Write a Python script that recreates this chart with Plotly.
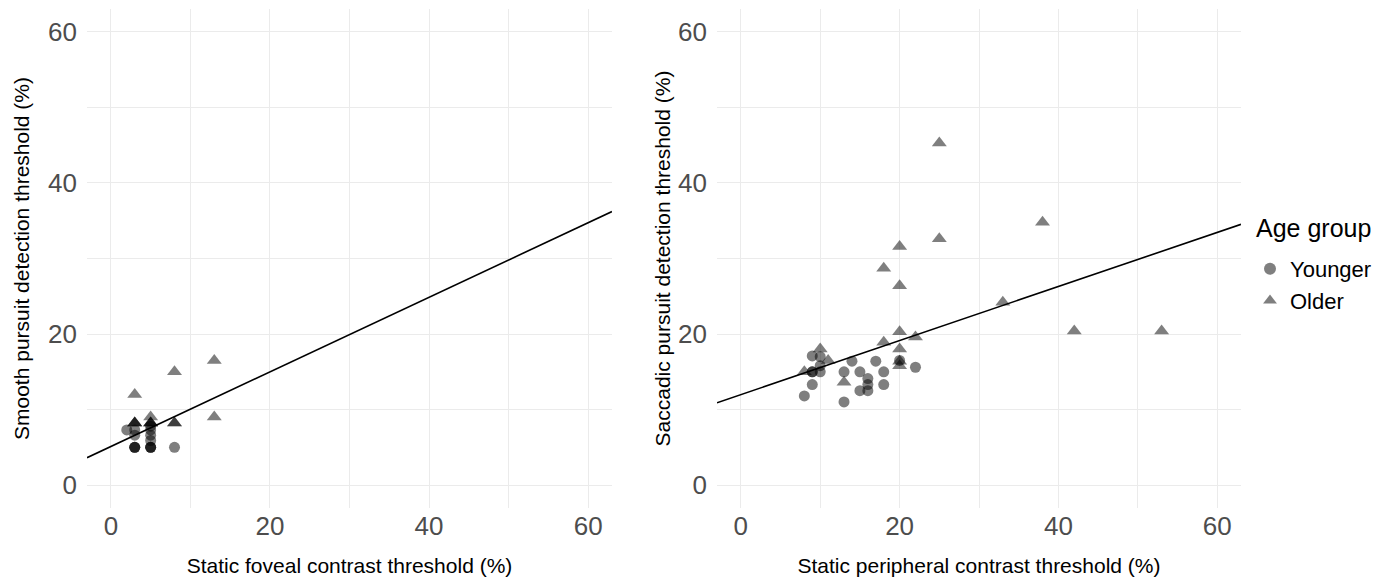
import plotly.graph_objects as go

# ---- data ----
# Left panel: static foveal contrast threshold vs smooth pursuit detection threshold
fov_young_x = [2, 3, 3, 3, 3, 3, 5, 5, 5, 5, 5, 5, 5, 8]
fov_young_y = [7.3, 5, 5, 5, 6.6, 7.3, 5, 5, 5, 5.9, 6.6, 7.3, 7.8, 5]
fov_old_x = [3, 3, 3, 3, 5, 5, 5, 5, 8, 8, 8, 13, 13]
fov_old_y = [12, 8.2, 8.2, 8.2, 9, 8.2, 8.2, 8.2, 8.2, 8.2, 15, 16.5, 9]
fov_fit = {"intercept": 5.1, "slope": 0.494}

# Right panel: static peripheral contrast threshold vs saccadic pursuit detection threshold
per_young_x = [8, 9, 9, 9, 9, 10, 10, 10, 13, 13, 14, 15, 15, 16, 16, 16, 17, 18, 18, 20, 22]
per_young_y = [11.8, 17.1, 15, 15, 13.3, 17, 15.8, 15, 15, 11, 16.4, 15, 12.5, 14.1, 13.3, 12.5, 16.4, 15, 13.3, 16.5, 15.6]
per_old_x = [8, 10, 11, 13, 18, 18, 20, 20, 20, 20, 20, 20, 22, 25, 25, 33, 38, 42, 53]
per_old_y = [15, 18, 16.5, 13.6, 18.9, 28.7, 31.6, 26.4, 20.3, 18, 16.4, 15.8, 19.6, 45.3, 32.6, 24.2, 34.8, 20.4, 20.4]
per_fit = {"intercept": 11.97, "slope": 0.358}

tick_vals = [0, 20, 40, 60]
tick_text = ["0", "20", "40", "60"]
axis_range = [-3, 63]

x_titles = ["Static foveal contrast threshold (%)", "Static peripheral contrast threshold (%)"]
y_titles = ["Smooth pursuit detection threshold (%)", "Saccadic pursuit detection threshold (%)"]
group_names = ["Younger", "Older"]
legend_title = "Age group"

# ---- figure ----
FONT = "Liberation Sans, Arial, Helvetica, sans-serif"
pt_col = "rgba(0,0,0,0.5)"
fig = go.Figure()

panels = [
    (fov_young_x, fov_young_y, fov_old_x, fov_old_y, fov_fit, "x", "y"),
    (per_young_x, per_young_y, per_old_x, per_old_y, per_fit, "x2", "y2"),
]
for i, (yx, yy, ox, oy, fit, xa, ya) in enumerate(panels):
    fig.add_trace(go.Scatter(
        x=yx, y=yy, mode="markers", name=group_names[0], legendgroup="y",
        showlegend=(i == 0), xaxis=xa, yaxis=ya,
        marker=dict(symbol="circle", size=11, color=pt_col, line=dict(width=0)),
    ))
    fig.add_trace(go.Scatter(
        x=ox, y=oy, mode="markers", name=group_names[1], legendgroup="o",
        showlegend=(i == 0), xaxis=xa, yaxis=ya,
        marker=dict(symbol="triangle-up", size=13, color=pt_col, line=dict(width=0)),
    ))
    lx = axis_range
    ly = [fit["intercept"] + fit["slope"] * v for v in lx]
    fig.add_trace(go.Scatter(
        x=lx, y=ly, mode="lines", showlegend=False, xaxis=xa, yaxis=ya,
        line=dict(color="black", width=1.6), hoverinfo="skip",
    ))

W, H = 1390, 581
xdoms = [[87 / W, 612 / W], [717 / W, 1241 / W]]
ydom = [(H - 507.7) / H, (H - 9.3) / H]
y_title_standoffs = [12, 1]

def ax_common():
    return dict(
        range=axis_range, tickvals=tick_vals, ticktext=tick_text,
        showgrid=True, gridcolor="#ebebeb", gridwidth=1.2,
        minor=dict(dtick=10, tick0=0, showgrid=True, gridcolor="#ebebeb", gridwidth=0.6),
        zeroline=False, showline=False, ticks="",
        tickfont=dict(family=FONT, size=26, color="#4d4d4d"),
    )

layout = dict(
    width=W, height=H,
    margin=dict(l=0, r=0, t=0, b=0),
    paper_bgcolor="white", plot_bgcolor="white",
    font=dict(family=FONT, color="black"),
    legend=dict(
        x=1250 / W, y=(H - 248) / H, xanchor="left", yanchor="top",
        font=dict(family=FONT, size=22, color="black"),
        itemsizing="constant", tracegroupgap=0, bgcolor="rgba(0,0,0,0)",
    ),
    annotations=[dict(
        text=legend_title, xref="paper", yref="paper",
        x=1254 / W, y=(H - 228) / H, xanchor="left", yanchor="middle",
        showarrow=False, font=dict(family=FONT, size=25, color="black"),
    )],
)
for i, suffix in enumerate(["", "2"]):
    xa = ax_common()
    xa.update(domain=xdoms[i], anchor="y" + suffix,
              title=dict(text=x_titles[i], font=dict(family=FONT, size=21, color="black"), standoff=18),
              ticklabelstandoff=0)
    ya = ax_common()
    ya.update(domain=ydom, anchor="x" + suffix,
              title=dict(text=y_titles[i], font=dict(family=FONT, size=21, color="black"),
                         standoff=y_title_standoffs[i]),
              ticklabelstandoff=9)
    layout["xaxis" + suffix] = xa
    layout["yaxis" + suffix] = ya

fig.update_layout(**layout)
fig.write_html("out.html", config={"displayModeBar": False},
               post_script="document.body.style.margin='0px';")
